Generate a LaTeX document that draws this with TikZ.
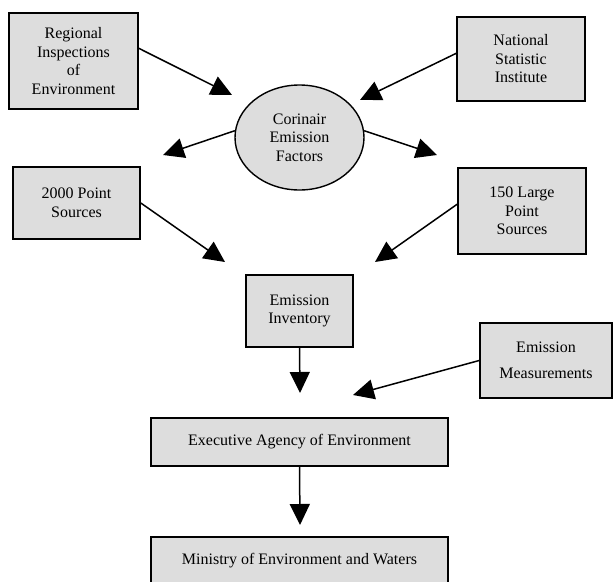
\documentclass[tikz,border=0pt]{standalone}
\usepackage{fontspec}
\setmainfont{Liberation Serif}
\usepackage{xcolor}
\usepackage{tikz}
\usetikzlibrary{shapes,arrows.meta}

\definecolor{boxgray}{RGB}{221,221,221}

\begin{document}
\begin{tikzpicture}[
    x=1pt, y=-1pt,
    font=\fontsize{16}{18.5}\selectfont,
    box/.style={rectangle, draw, line width=1.6pt, fill=boxgray, align=center, inner sep=0pt},
    oval/.style={ellipse, draw, line width=1.4pt, fill=boxgray, align=center, inner sep=0pt},
    flow/.style={-{Triangle[length=21pt,width=20pt]}, line width=1.5pt}
]
\useasboundingbox (0,0) rectangle (613,581);

% Sources
\node[box, minimum width=129pt, minimum height=96pt] (regional) at (73.5,61) {Regional\\Inspections\\of\\Environment};
\node[box, minimum width=128pt, minimum height=84pt] (national) at (521,59) {National\\Statistic\\Institute};
\node[oval, minimum width=129pt, minimum height=105pt] (corinair) at (299.5,137.5) {Corinair\\Emission\\Factors};

% Point sources
\node[box, minimum width=127pt, minimum height=72pt] (pts2000) at (76.5,203) {2000 Point\\Sources};
\node[box, minimum width=128pt, minimum height=86pt] (pts150) at (522,211) {150 Large\\Point\\Sources};

% Inventory and measurements
\node[box, minimum width=107pt, minimum height=72pt] (inventory) at (299.5,311) {Emission\\Inventory};
\node[box, minimum width=132pt, minimum height=75pt] (measure) at (546,360.5) {Emission\\[8pt]Measurements};

% Agencies
\node[box, minimum width=297pt, minimum height=48pt] (agency) at (299.5,442) {Executive Agency of Environment};
\node[box, minimum width=297pt, minimum height=48pt] (ministry) at (299.5,561) {Ministry of Environment and Waters};

% Arrow tips
\coordinate (tipA) at (232,95);
\coordinate (tipB) at (360,100);
\coordinate (tipC) at (163,155);
\coordinate (tipD) at (437,155);
\coordinate (tipE) at (225,262);
\coordinate (tipF) at (375,262);
\coordinate (tipG) at (300,393);
\coordinate (tipH) at (353,395);
\coordinate (tipI) at (300,525);

% Connections
\draw[flow] (regional.11) -- (tipA);
\draw[flow] (national.175) -- (tipB);
\draw[flow] (corinair.174) -- (tipC);
\draw[flow] (corinair.6) -- (tipD);
\draw[flow] (pts2000.east) -- (tipE);
\draw[flow] (pts150.174) -- (tipF);
\draw[flow] (inventory.south) -- (tipG);
\draw[flow] (measure.west) -- (tipH);
\draw[flow] (agency.south) -- (tipI);

\end{tikzpicture}
\end{document}
